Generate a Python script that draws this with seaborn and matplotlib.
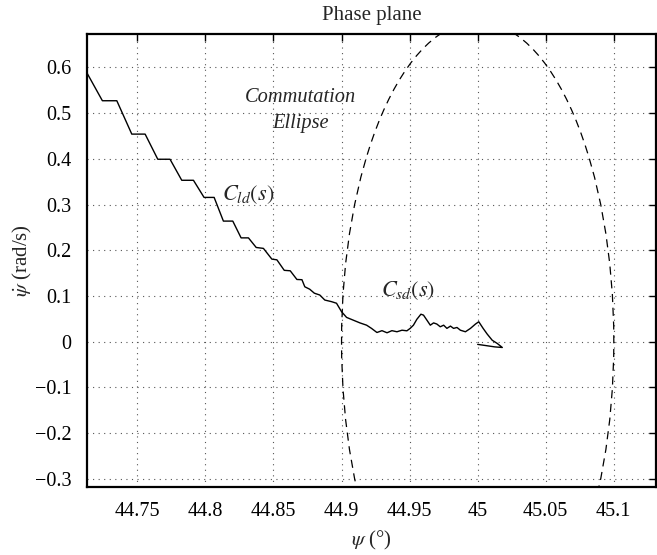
import matplotlib
matplotlib.use("Agg")
import matplotlib.pyplot as plt
from matplotlib.patches import Ellipse
import seaborn as sns
import pandas as pd

# ---- data ----
psi = [44.7120, 44.7243, 44.7349, 44.7459, 44.7557, 44.7650, 44.7740, 44.7826,
       44.7912, 44.7990, 44.8064, 44.8132, 44.8201, 44.8262, 44.8316, 44.8373,
       44.8426, 44.8488, 44.8525, 44.8579, 44.8623, 44.8672, 44.8709, 44.8730,
       44.8766, 44.8800, 44.8840, 44.8877, 44.8926, 44.8963, 44.9000, 44.9037,
       44.9086, 44.9135, 44.9184, 44.9220, 44.9260, 44.9297, 44.9334, 44.9370,
       44.9407, 44.9444, 44.9480, 44.9504, 44.9528, 44.9553, 44.9583, 44.9602,
       44.9627, 44.9652, 44.9676, 44.9700, 44.9725, 44.9750, 44.9774, 44.9800,
       44.9823, 44.9848, 44.9873, 44.9910, 44.9947, 44.9984, 45.0008, 45.0040,
       45.0070, 45.0107, 45.0144, 45.0181, 45.0126, 45.0000]
dpsi = [0.593, 0.527, 0.527, 0.454, 0.454, 0.399, 0.399, 0.353,
        0.353, 0.3155, 0.3155, 0.2637, 0.2637, 0.227, 0.227, 0.206,
        0.204, 0.1805, 0.179, 0.156, 0.155, 0.136, 0.1355, 0.120,
        0.1147, 0.106, 0.102, 0.091, 0.0875, 0.084, 0.0655, 0.053,
        0.047, 0.041, 0.036, 0.029, 0.020, 0.024, 0.0194, 0.024,
        0.0216, 0.025, 0.0237, 0.029, 0.036, 0.0488, 0.060, 0.058,
        0.047, 0.036, 0.041, 0.0385, 0.0325, 0.036, 0.029, 0.034,
        0.029, 0.031, 0.025, 0.0216, 0.029, 0.0385, 0.0435, 0.029,
        0.0165, 0.003, -0.004, -0.0128, -0.0115, -0.006]

# commutation ellipse (centre and semi-axes)
ell_center = (45.0, 0.0)
ell_semi_psi = 0.1
ell_semi_dpsi = 0.70

x_ticks = [44.75, 44.8, 44.85, 44.9, 44.95, 45.0, 45.05, 45.1]
x_tick_labels = ["44.75", "44.8", "44.85", "44.9", "44.95", "45", "45.05", "45.1"]
y_ticks = [-0.3, -0.2, -0.1, 0.0, 0.1, 0.2, 0.3, 0.4, 0.5, 0.6]
y_tick_labels = ["\u22120.3", "\u22120.2", "\u22120.1", "0", "0.1", "0.2", "0.3", "0.4", "0.5", "0.6"]

sns.set_style("white")
plt.rcParams["font.family"] = ["Liberation Serif", "DejaVu Serif"]
plt.rcParams["mathtext.fontset"] = "stix"

fig = plt.figure(figsize=(6.57, 5.55), dpi=100)
ax = fig.add_axes([87 / 657, 1 - 487 / 555, 569 / 657, 453 / 555])

df = pd.DataFrame({"psi": psi, "dpsi": dpsi})
sns.lineplot(data=df, x="psi", y="dpsi", sort=False, estimator=None,
             color="black", linewidth=1.0, ax=ax)

ell = Ellipse(ell_center, 2 * ell_semi_psi, 2 * ell_semi_dpsi, fill=False,
              edgecolor="black", linewidth=0.9, linestyle=(0, (6.5, 4.5)))
ax.add_patch(ell)

ax.set_xlim(44.713, 45.131)
ax.set_ylim(-0.318, 0.673)
ax.set_xticks(x_ticks)
ax.set_xticklabels(x_tick_labels)
ax.set_yticks(y_ticks)
ax.set_yticklabels(y_tick_labels)

ax.grid(True, linestyle=(0, (1, 4)), color="#555555", linewidth=0.8)
ax.tick_params(direction="in", length=5, width=1.0, top=True, right=True,
               labelsize=14.5, colors="black")
ax.tick_params(axis="x", pad=11)
ax.tick_params(axis="y", pad=11)
for s in ax.spines.values():
    s.set_visible(True)
    s.set_color("black")
    s.set_linewidth(1.6)

ax.set_title("Phase plane", fontsize=15, pad=10)
ax.set_xlabel(r"$\psi$ (°)", fontsize=15)
ax.set_ylabel(r"$\dot{\psi}$ (rad/s)", fontsize=15)
ax.xaxis.set_label_coords(0.5, -0.092)
ax.yaxis.set_label_coords(-0.094, 0.5)

ax.text(44.8696, 0.535, "Commutation", style="italic", fontsize=14.7,
        ha="center", va="center")
ax.text(44.8696, 0.478, "Ellipse", style="italic", fontsize=14.7,
        ha="center", va="center")
ax.text(44.812, 0.3206, r"$C_{ld}(s)$", fontsize=16, ha="left", va="center")
ax.text(44.9288, 0.1116, r"$C_{sd}(s)$", fontsize=16, ha="left", va="center")

fig.savefig("out.png", dpi=100)
